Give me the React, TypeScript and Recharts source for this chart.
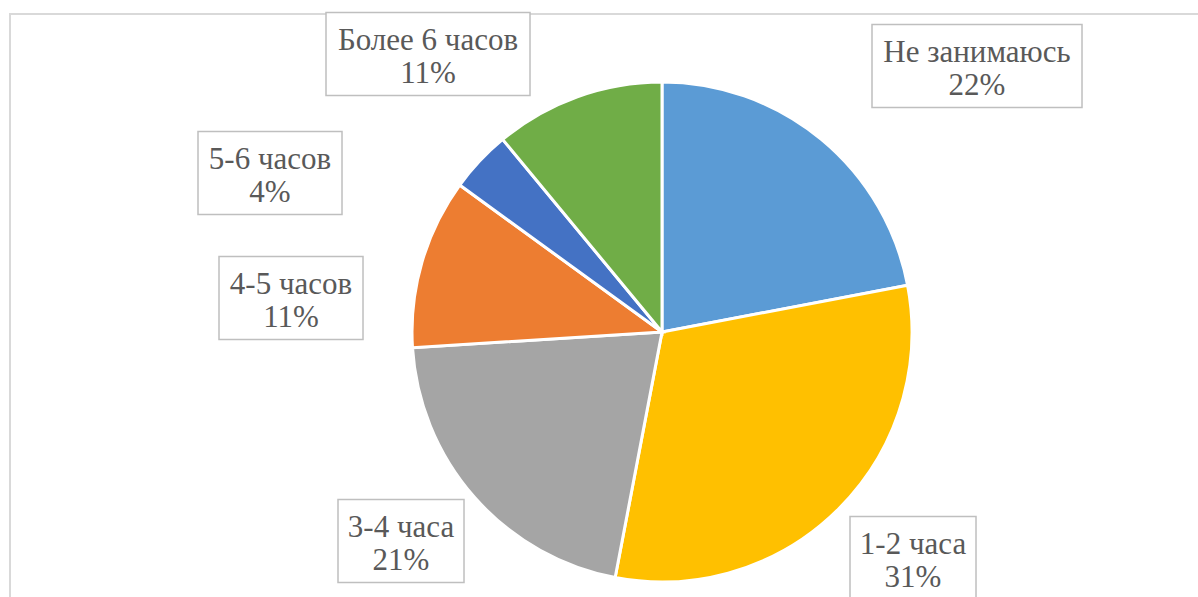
import React from 'react';
import { PieChart, Pie, Cell } from 'recharts';

const categories = ['Не занимаюсь', '1-2 часа', '3-4 часа', '4-5 часов', '5-6 часов', 'Более 6 часов'];
const shares = [22, 31, 21, 11, 4, 11];

const COLORS = ['#5b9bd5', '#ffc000', '#a5a5a5', '#ed7d31', '#4472c4', '#70ad47'];

// label box placement relative to pie centre (Excel moved these by hand)
const LABEL_BOXES = [
  { dx: 315, dy: -266, w: 210 },
  { dx: 251, dy: 226, w: 126 },
  { dx: -261, dy: 209, w: 126 },
  { dx: -371, dy: -34, w: 144 },
  { dx: -392, dy: -159, w: 144 },
  { dx: -234, dy: -278, w: 204 },
];

const data = categories.map((name, i) => ({ name, value: shares[i] }));

const renderLabel = (props: any) => {
  const { cx, cy, index, name, percent } = props;
  const box = LABEL_BOXES[index];
  const x = cx + box.dx;
  const y = cy + box.dy;
  const h = 83;
  return (
    <g key={`label-${index}`}>
      <rect
        x={x - box.w / 2}
        y={y - h / 2}
        width={box.w}
        height={h}
        fill="#ffffff"
        stroke="#bfbfbf"
        strokeWidth={1.5}
      />
      <text x={x} y={y - 4.5} textAnchor="middle" fill="#595959" fontFamily="Times New Roman" fontSize={31}>
        {name}
      </text>
      <text x={x} y={y + 28.5} textAnchor="middle" fill="#595959" fontFamily="Times New Roman" fontSize={31}>
        {`${Math.round(percent * 100)}%`}
      </text>
    </g>
  );
};

const App: React.FC = () => {
  return (
    <div style={{ position: 'absolute', left: 0, top: 0, width: 1198, height: 597, overflow: 'hidden', background: '#fff' }}>
      <div
        style={{
          position: 'absolute',
          left: 9,
          top: 13,
          width: 1220,
          height: 700,
          border: '2px solid #d9d9d9',
        }}
      />
      <div style={{ position: 'absolute', left: 0, top: 0 }}>
        <PieChart width={1198} height={597} margin={{ top: 0, right: 0, bottom: 0, left: 0 }}>
          <Pie
            data={data}
            dataKey="value"
            nameKey="name"
            cx={662}
            cy={332}
            outerRadius={250}
            startAngle={90}
            endAngle={-270}
            stroke="#ffffff"
            strokeWidth={3}
            labelLine={false}
            label={renderLabel}
            isAnimationActive={false}
          >
            {data.map((entry, i) => (
              <Cell key={`cell-${entry.name}`} fill={COLORS[i]} />
            ))}
          </Pie>
        </PieChart>
      </div>
    </div>
  );
};

export default App;
